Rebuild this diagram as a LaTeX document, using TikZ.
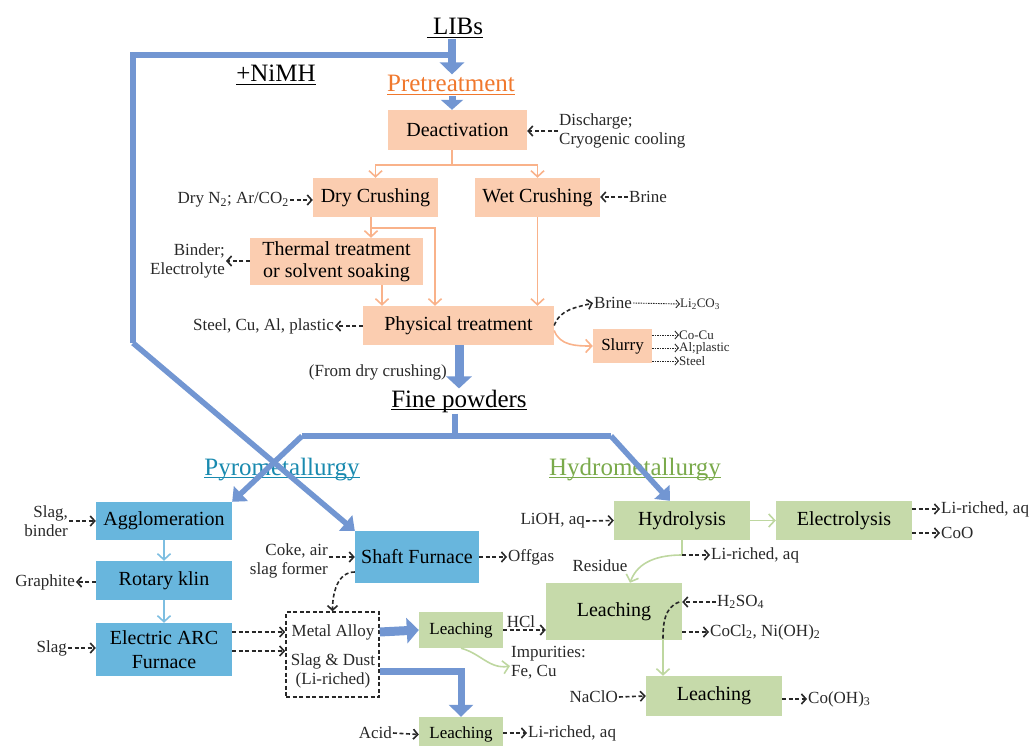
\documentclass[tikz,border=0pt]{standalone}
\usepackage{fontspec}
\setmainfont{Liberation Serif}
\usetikzlibrary{arrows.meta,positioning}
\definecolor{boxor}{RGB}{251,205,176}
\definecolor{lineor}{RGB}{249,178,138}
\definecolor{txtor}{RGB}{240,120,45}
\definecolor{boxbl}{RGB}{104,182,221}
\definecolor{linebl}{RGB}{125,190,225}
\definecolor{fatbl}{RGB}{114,150,210}
\definecolor{txtbl}{RGB}{25,138,175}
\definecolor{boxgr}{RGB}{198,218,170}
\definecolor{linegr}{RGB}{190,215,160}
\definecolor{txtgr}{RGB}{122,170,75}
\definecolor{ink}{RGB}{40,40,40}
\newcommand{\headul}[1]{\setbox0\hbox{#1}\rlap{\rule[-3pt]{\wd0}{1.2pt}}\box0}

\begin{document}
\begin{tikzpicture}[x=1pt, y=-1pt]

\tikzset{ box/.style={rectangle, inner sep=2pt, align=center,
    font=\fontsize{20}{24}\selectfont},
  orbox/.style={box, fill=boxor},
  blbox/.style={box, fill=boxbl},
  grbox/.style={box, fill=boxgr},
  head/.style={inner sep=1pt, anchor=base, font=\fontsize{25}{28}\selectfont},
  lbl/.style={inner sep=1pt, text=ink, font=\fontsize{17}{19}\selectfont},
  tiny/.style={inner sep=0pt, text=ink, font=\fontsize{13}{14}\selectfont},
  fat/.style={draw=fatbl, line width=5.5pt, -{Triangle[length=12pt,width=20pt]}},
  fatline/.style={draw=fatbl, line width=5.5pt},
  orarr/.style={draw=lineor, line width=1.6pt, -{Straight Barb[length=6pt,width=13pt]}},
  orline/.style={draw=lineor, line width=1.6pt},
  blarr/.style={draw=linebl, line width=1.6pt, -{Straight Barb[length=6pt,width=13pt]}},
  grarr/.style={draw=linegr, line width=1.6pt, -{Straight Barb[length=6pt,width=13pt]}},
  grline/.style={draw=linegr, line width=1.6pt},
  dasharr/.style={draw=ink, line width=1.6pt, dash pattern=on 4pt off 2.5pt,
    -{Straight Barb[length=4.5pt,width=10pt]}},
  dashline/.style={draw=ink, line width=1.6pt, dash pattern=on 4pt off 2.5pt},
  dotarr/.style={draw=ink, line width=0.9pt, dash pattern=on 1.5pt off 1pt,
    -{Straight Barb[length=3.5pt,width=8pt]}}
}
\useasboundingbox (0,0) rectangle (1034,746);

% Headings
\node[head] (libs) at (455,35) {\headul{\ LIBs}};
\node[head] (nimh) at (276,82) {\headul{+NiMH}};
\node[head, text=txtor] (pretreat) at (451,92) {\headul{Pretreatment}};
\node[head] (fine) at (459,407) {\headul{Fine powders}};
\node[head, text=txtbl] (pyro) at (282,475) {\headul{Pyrometallurgy}};
\node[head, text=txtgr] (hydro) at (635,475) {\headul{Hydrometallurgy}};

\coordinate (spine) at (452,0);

% Pretreatment
\node[orbox, minimum width=139, minimum height=40] (deact) at (457.5,130) {Deactivation};
\node[orbox, minimum width=125, minimum height=39] (drycr) at (375.5,197.5) {Dry Crushing};
\node[orbox, minimum width=125, minimum height=39] (wetcr) at (537.5,197.5) {Wet Crushing};
\node[orbox, minimum width=173, minimum height=47, font=\fontsize{20}{22}\selectfont]
  (thermal) at (336.5,261.5) {Thermal treatment\\or solvent soaking};
\node[orbox, minimum width=191, minimum height=39] (phys) at (458.5,325.5) {Physical treatment};
\node[orbox, minimum width=59, minimum height=34, font=\fontsize{17}{19}\selectfont]
  (slurry) at (622.5,346) {Slurry};

\node[lbl, anchor=west, align=left] (dis) at (558,131) {Discharge;\\Cryogenic cooling};
\node[lbl, anchor=east] (drygas) at (290,200) {Dry N\textsubscript{2}; Ar/CO\textsubscript{2}};
\node[lbl, anchor=west] (brinein) at (628,197) {Brine};
\node[lbl, anchor=east, align=right] (binder) at (226,261) {Binder;\\Electrolyte};
\node[lbl, anchor=east] (steel) at (335,326) {Steel, Cu, Al, plastic};
\node[lbl, anchor=west] (brineout) at (593,303) {Brine};
\node[tiny, anchor=west] (lico) at (680,304) {Li\textsubscript{2}CO\textsubscript{3}};
\node[tiny, anchor=west] (cocu) at (679,335) {Co-Cu};
\node[tiny, anchor=west] (alpl) at (679,348) {Al;plastic};
\node[tiny, anchor=west] (steelb) at (679,361) {Steel};
\node[lbl, anchor=east] (fromdry) at (448,372) {(From dry crushing)};

\draw[fat, line width=8pt, -{Triangle[length=12pt,width=24pt]}] (libs.south -| spine) -- (pretreat.north -| spine);
\draw[fat, line width=7pt, -{Triangle[length=10pt,width=22pt]}] (pretreat.south -| spine) -- (deact.north -| spine);

\coordinate (split) at (452,165);
\coordinate (dc1) at (371,217);
\coordinate (dc2) at (435,228);
\coordinate (th2ph) at (382,0);
\draw[orline] (deact.south -| split) -- (split);
\draw[orarr] (split) -| (drycr.north);
\draw[orarr] (split) -| (wetcr.north);
\draw[orarr] (dc1) -- (dc1 |- thermal.north);
\draw[orarr] (dc1 |- dc2) -| (dc2 |- phys.north);
\draw[orarr] (thermal.south -| th2ph) -- (phys.north -| th2ph);
\draw[orarr] (wetcr.south) -- (wetcr.south |- phys.north);
\draw[orarr] ([yshift=-5]phys.east) to[out=-70,in=180] (slurry.west);

\draw[dasharr] (dis.west) -- (dis.west -| deact.east);
\draw[dasharr] (drygas.east) -- (drygas.east -| drycr.west);
\draw[dasharr] (brinein.west) -- (brinein.west -| wetcr.east);
\draw[dasharr] (binder.east -| thermal.west) -- (binder.east);
\draw[dasharr] (phys.west |- steel) -- (steel.east);
\draw[dasharr] (phys.east) to[out=70,in=195] (brineout.west);
\draw[dotarr] (brineout.east) -- (lico.west);
\draw[dotarr] (slurry.east |- cocu) -- (cocu.west);
\draw[dotarr] (slurry.east |- alpl) -- (alpl.west);
\draw[dotarr] (slurry.east |- steelb) -- (steelb.west);

% Blue routes
\coordinate (fork) at (455,436);
\coordinate (forkL) at (302,436);
\coordinate (forkR) at (611,436);
\draw[fat, line width=9pt, -{Triangle[length=12pt,width=25pt]}] (phys.south -| fine) -- (fine.north);
\draw[fatline] (fine.south -| fork) -- (fork);

% Pyrometallurgy
\node[blbox, minimum width=136, minimum height=38] (agglo) at (164,521) {Agglomeration};
\node[blbox, minimum width=136, minimum height=39] (rotary) at (164,580.5) {Rotary klin};
\node[blbox, minimum width=136, minimum height=53] (eaf) at (164,649.5) {Electric ARC\\Furnace};
\node[blbox, minimum width=124, minimum height=52] (shaft) at (417,557) {Shaft Furnace};
\node[draw=ink, line width=1.6pt, dash pattern=on 4pt off 2.5pt, minimum width=93,
  minimum height=85] (alloy) at (332.5,654.5) {};
\node[lbl] (metal) at (333,632) {Metal Alloy};
\node[lbl, align=center] (slagdust) at (333,671) {Slag \& Dust\\(Li-riched)};

\node[lbl, anchor=east, align=right] (slagbind) at (69,521) {Slag,\\binder};
\node[lbl, anchor=east] (graph) at (76,582) {Graphite};
\node[lbl, anchor=east] (slag) at (68,648) {Slag};
\node[lbl, anchor=east, align=right] (coke) at (329,561) {Coke, air\\slag former};
\node[lbl, anchor=west] (offgas) at (507,557) {Offgas};
\node[lbl, anchor=east] (acid) at (393,733) {Acid};

\draw[fatline] (spine |- 0,55) -- (133,55) -- (133,343);
\draw[fat] (133,343) -- (shaft.north west);
\draw[fatline] (fork) -- (forkL);
\draw[fat] (forkL) -- (agglo.north east);
\draw[fatline] (fork) -- (forkR);

\draw[blarr] (agglo) -- (rotary);
\draw[blarr] (rotary) -- (eaf);
\draw[dasharr] (slagbind.east) -- (slagbind.east -| agglo.west);
\draw[dasharr] (rotary.west |- graph) -- (graph.east);
\draw[dasharr] (slag.east) -- (slag.east -| eaf.west);
\draw[dasharr] (coke.east |- shaft) -- (shaft.west);
\draw[dasharr] (shaft.east |- offgas) -- (offgas.west);
\draw[dasharr] ([yshift=-15]shaft.west) to[out=180,in=90] (alloy.north);
\draw[dasharr] (eaf.east |- metal) -- (alloy.west |- metal);
\draw[dasharr] (eaf.east |- 0,651) -- (alloy.west |- 0,651);

% Hydrometallurgy
\node[grbox, minimum width=136, minimum height=39] (hydrol) at (682,520.5) {Hydrolysis};
\node[grbox, minimum width=136, minimum height=39] (electro) at (844,520.5) {Electrolysis};
\node[grbox, minimum width=136, minimum height=57] (leachbig) at (614,611.5) {Leaching};
\node[grbox, minimum width=84, minimum height=36, font=\fontsize{17}{19}\selectfont]
  (leachhcl) at (461,630) {Leaching};
\node[grbox, minimum width=136, minimum height=40] (leachco) at (714,696) {Leaching};
\node[grbox, minimum width=84, minimum height=35, font=\fontsize{17}{19}\selectfont]
  (leachacid) at (461,734.5) {Leaching};

\node[lbl, anchor=east] (lioh) at (586,521) {LiOH, aq};
\node[lbl, anchor=west] (liaqa) at (940,509) {Li-riched, aq};
\node[lbl, anchor=west] (coo) at (940,533) {CoO};
\node[lbl, anchor=west] (liaqb) at (710,555) {Li-riched, aq};
\node[lbl] (resid) at (600,566) {Residue};
\node[lbl, anchor=west] (hso) at (716,602) {H\textsubscript{2}SO\textsubscript{4}};
\node[lbl, anchor=west] (cocl) at (709,632) {CoCl\textsubscript{2}, Ni(OH)\textsubscript{2}};
\node[lbl, anchor=east] (naclo) at (619,697) {NaClO};
\node[lbl, anchor=west] (cooh) at (807,699) {Co(OH)\textsubscript{3}};
\node[lbl] (hcl) at (521,622) {HCl};
\node[lbl, anchor=west, align=left] (impur) at (510,663) {Impurities:\\Fe, Cu};
\node[lbl, anchor=west] (liaqc) at (527,733) {Li-riched, aq};

\coordinate (hb) at (682,555);
\coordinate (gv) at (663,640);
\draw[fat] (forkR) -- ([xshift=-12]hydrol.north);
\draw[fat, line width=9pt, -{Triangle[length=12pt,width=25pt]}] (alloy.east |- metal) -- (leachhcl.west);
\draw[fat, line width=7pt, -{Triangle[length=12pt,width=24pt]}] (alloy.east |- 0,671) -| (leachacid.north);

\draw[grarr] (hydrol) -- (electro);
\draw[grline] (hydrol.south) -- (hb);
\draw[grarr] (hb) to[out=180,in=70] ([xshift=16]leachbig.north);
\draw[grarr] (gv) -- (gv |- leachco.north);
\draw[grarr] (leachhcl.south) to[out=-15,in=190] ([yshift=-3]impur.west);

\draw[dasharr] (lioh.east) -- (hydrol.west);
\draw[dasharr] (electro.east |- liaqa) -- (liaqa.west);
\draw[dasharr] (electro.east |- coo) -- (coo.west);
\draw[dasharr] (hb) -- (liaqb.west);
\draw[dasharr] (hso.west) -- (hso.west -| leachbig.east);
\draw[dashline] ([xshift=-3]leachbig.east |- hso) to[out=200,in=90] (gv);
\draw[dasharr] (leachbig.east |- cocl) -- (cocl.west);
\draw[dasharr] (naclo.east) -- (leachco.west);
\draw[dasharr] (leachco.east |- cooh) -- (cooh.west);
\draw[dasharr] (leachhcl.east) -- (leachhcl.east -| leachbig.west);
\draw[dasharr] (acid.east) -- (leachacid.west);
\draw[dasharr] (leachacid.east |- liaqc) -- (liaqc.west);

\end{tikzpicture}
\end{document}
